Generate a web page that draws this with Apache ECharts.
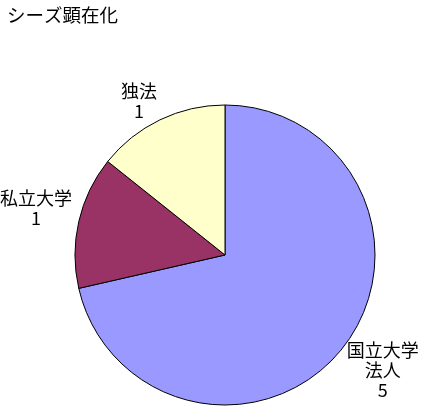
<!DOCTYPE html>
<html>
<head>
<meta charset="utf-8">
<script src="https://cdn.jsdelivr.net/npm/echarts@6/dist/echarts.min.js"></script>
<style>html,body{margin:0;padding:0;background:#fff}#c{width:435px;height:411px}</style>
</head>
<body>
<div id="c"></div>
<script>
const titleText = 'シーズ顕在化';
const categories = ['国立大学法人', '私立大学', '独法'];
const values = [5, 1, 1];
const colors = ['#9999FF', '#993366', '#FFFFCC'];

const font = '"Noto Sans CJK JP", sans-serif';
const labelShift = [[3, -8], [4, -3], [0, 25]];
const data = categories.map((n, i) => ({ name: n, value: values[i], itemStyle: { color: colors[i] } }));
const wrap = s => s.replace(/(.{4})(?=.)/g, '$1\n');

const chart = echarts.init(document.getElementById('c'));
chart.setOption({
  animation: false,
  title: { text: titleText, left: 2, top: 1, textStyle: { fontSize: 18.5, fontWeight: 'normal', color: '#000', fontFamily: font } },
  series: [
    {
      type: 'pie', center: [225, 255], radius: 150, startAngle: 90, clockwise: true,
      data: data, label: { show: false }, labelLine: { show: false },
      itemStyle: { borderColor: '#000', borderWidth: 1 }, emphasis: { disabled: true }
    },
    {
      type: 'pie', center: [225, 255], radius: [180, 210], startAngle: 90, clockwise: true,
      silent: true,
      data: data.map(d => ({ name: d.name, value: d.value, itemStyle: { color: 'rgba(0,0,0,0)' } })),
      itemStyle: { borderWidth: 0 },
      labelLine: { show: false },
      label: {
        show: true, position: 'inside', color: '#000', fontSize: 18, lineHeight: 20,
        fontFamily: font, align: 'center',
        formatter: p => wrap(p.name) + '\n' + p.value
      },
      labelLayout: p => ({ dx: labelShift[p.dataIndex][0], dy: labelShift[p.dataIndex][1] })
    }
  ]
});
</script>
</body>
</html>
